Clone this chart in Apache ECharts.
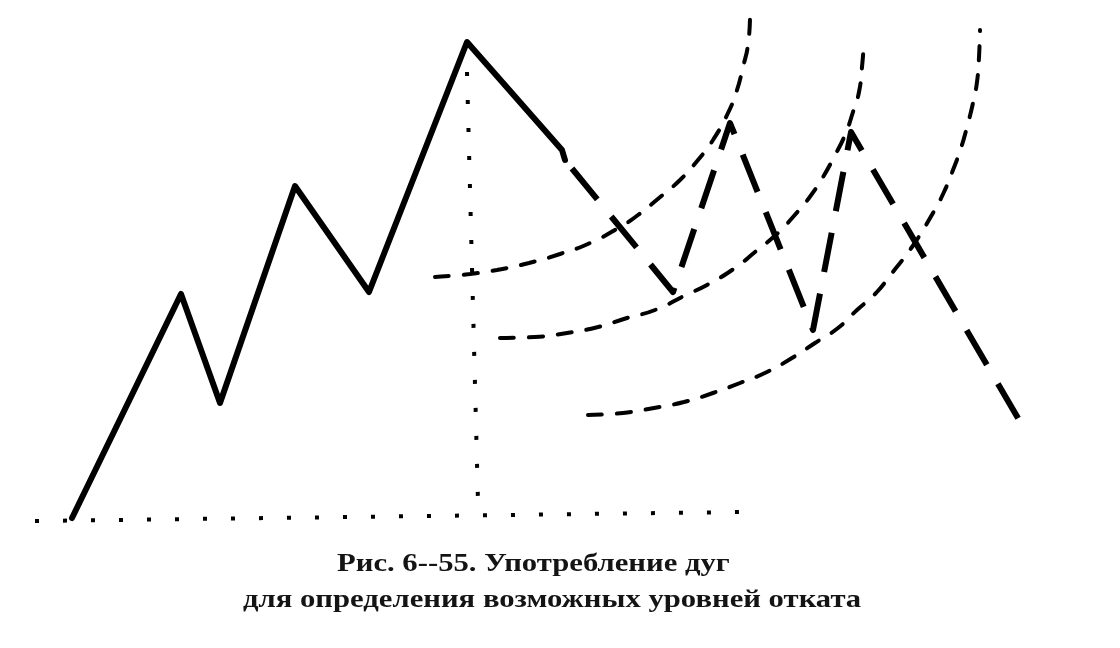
<!DOCTYPE html>
<html>
<head>
<meta charset="utf-8">
<script src="https://cdn.jsdelivr.net/npm/echarts@6/dist/echarts.min.js"></script>
<style>
html,body{margin:0;padding:0;background:#fff;}
#chart{width:1120px;height:648px;}
</style>
</head>
<body>
<div id="chart"></div>
<script>
// Points (x to the right, y downward)
var baselinePts = [[35, 521], [742, 512]];
var peakDropPts = [[467, 72], [478, 502]];
var pricePts = [[72, 518], [181, 294], [220, 403], [295, 186], [369, 292], [467, 42], [562, 150], [565, 160]];
var forecastPts = [[565, 160], [673, 292], [730, 123], [813, 330], [851, 132], [1022, 425]];
var arc1Pts = [[435, 277], [470, 274], [497, 270], [529, 263], [560, 254], [590, 243], [620, 227], [638, 215], [659, 198], [680, 180], [698, 160], [713, 140], [728, 113], [737, 90], [743, 67], [748, 45], [750, 18]];
var arc2Pts = [[500, 338], [535, 337], [567, 333], [598, 327], [627, 318], [655, 310], [686, 295], [707, 285], [735, 268], [755, 252], [778, 233], [793, 217], [809, 198], [823, 177], [834, 157], [845, 135], [853, 112], [859, 92], [862, 67], [864, 42]];
var arc3Pts = [[588, 415], [623, 413], [654, 408], [684, 402], [713, 393], [740, 383], [767, 372], [792, 358], [815, 343], [838, 328], [857, 310], [876, 293], [892, 273], [912, 247], [933, 213], [944, 192], [953, 170], [961, 148], [967, 127], [973, 103], [977, 82], [979, 57], [980, 30]];
var captionLines = ['Рис. 6--55. Употребление дуг', 'для определения возможных уровней отката'];

var chart = echarts.init(document.getElementById('chart'));

function lineSeries(data, style, smooth) {
  return {
    type: 'line',
    data: data,
    symbol: 'none',
    smooth: smooth || false,
    silent: true,
    animation: false,
    lineStyle: style
  };
}

var dotted = {color: '#000', width: 4, type: [4, 24]};
var arcStyle = {color: '#000', width: 4, type: [14, 15], cap: 'round'};

chart.setOption({
  backgroundColor: '#fff',
  animation: false,
  grid: {left: 0, right: 0, top: 0, bottom: 0},
  xAxis: {type: 'value', min: 0, max: 1120, show: false},
  yAxis: {type: 'value', min: 0, max: 648, inverse: true, show: false},
  series: [
    lineSeries(baselinePts, dotted),
    lineSeries(peakDropPts, dotted),
    lineSeries(arc1Pts, arcStyle, 0.5),
    lineSeries(arc2Pts, arcStyle, 0.5),
    lineSeries(arc3Pts, arcStyle, 0.5),
    lineSeries(pricePts, {color: '#000', width: 6, join: 'round', cap: 'round'}),
    lineSeries(forecastPts, {color: '#000', width: 6, type: [40, 22], dashOffset: 51, join: 'round'})
  ],
  graphic: [
    {type: 'text', x: 337, y: 551, scaleX: 1.18, style: {text: captionLines[0], font: 'bold 26px "Liberation Serif"', fill: '#141414'}},
    {type: 'text', x: 243, y: 587, scaleX: 1.18, style: {text: captionLines[1], font: 'bold 26px "Liberation Serif"', fill: '#141414'}}
  ]
});
</script>
</body>
</html>
